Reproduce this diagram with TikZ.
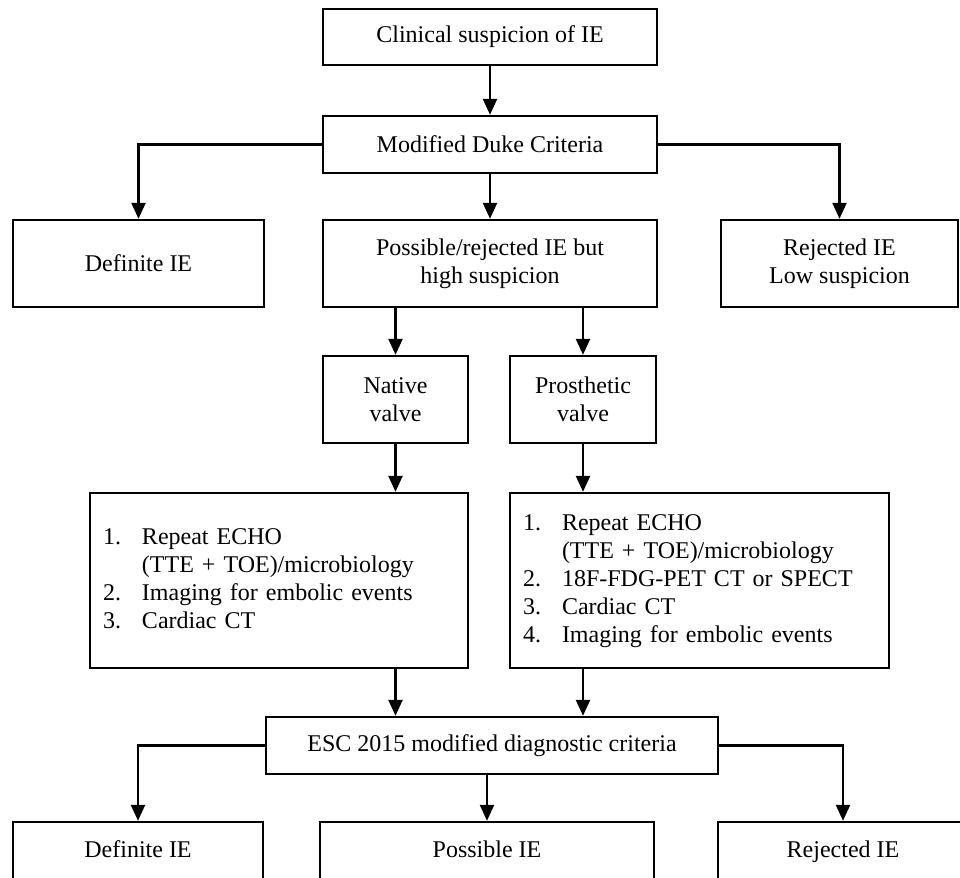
\documentclass[tikz,border=0pt]{standalone}
\usepackage{fontspec}
\setmainfont{Liberation Serif}
\usetikzlibrary{arrows.meta, positioning, calc}

\begin{document}
\begin{tikzpicture}[x=0.5pt, y=-0.5pt, line width=1.2pt,
  box/.style={draw, rectangle, align=center, font=\fontsize{12}{14}\selectfont},
  endbox/.style={box, minimum height=30pt, text height=8pt, text depth=2.5pt},
  listbox/.style={box, align=left, inner xsep=6.5pt, minimum height=87.5pt},
  arr/.style={-{Triangle[width=7pt,length=8pt]}}]
\useasboundingbox (0,0) rectangle (960,878);
\clip (0,0) rectangle (960,878);
% Top part
\node[box, minimum width=167pt, minimum height=28pt] (clin) at (490,37) {Clinical suspicion of IE};
\node[box, minimum width=167pt, minimum height=28.5pt] (duke) at (490,144.5) {Modified Duke Criteria};
\node[box, minimum width=125.5pt, minimum height=43.5pt] (defA) at (138.5,263.5) {Definite IE};
\node[box, minimum width=167pt, minimum height=43.5pt] (poss) at (490,263.5) {Possible/rejected IE but\\high suspicion};
\node[box, minimum width=118.5pt, minimum height=43.5pt] (rejA) at (839.5,263.5) {Rejected IE\\Low suspicion};
% Valves
\node[box, minimum width=72.5pt, minimum height=43.5pt] (native) at (395.5,399.5) {Native\\valve};
\node[box, minimum width=73pt, minimum height=43.5pt] (prosth) at (583,399.5) {Prosthetic\\valve};
\node[listbox, text width=176pt] (listN) at (279,580.5) {%
  \begin{tabular}{@{}p{19.5pt}@{}l@{}}
  1. & Repeat ECHO\\
     & (TTE + TOE)/microbiology\\
  2. & Imaging for embolic events\\
  3. & Cardiac CT
  \end{tabular}};
\node[listbox, text width=176.5pt] (listP) at (699.5,580.5) {%
  \begin{tabular}{@{}p{19.5pt}@{}l@{}}
  1. & Repeat ECHO\\
     & (TTE + TOE)/microbiology\\
  2. & 18F-FDG-PET CT or SPECT\\
  3. & Cardiac CT\\
  4. & Imaging for embolic events
  \end{tabular}};
% Bottom part
\node[box, minimum width=226pt, minimum height=28.5pt] (esc) at (492,745.5) {ESC 2015 modified diagnostic criteria};
\node[endbox, minimum width=125pt] (defB) at (138,852) {Definite IE};
\node[endbox, minimum width=167pt] (possB) at (487,852) {Possible IE};
\node[endbox, minimum width=125pt] (rejB) at (843,852) {Rejected IE};
% Arrows
\draw[arr] (clin) -- (duke);
\draw[arr] (duke) -- (poss);
\draw[arr] (duke.west) -| (defA.north);
\draw[arr] (duke.east) -| (rejA.north);
\draw[arr] (native |- poss.south) -- (native.north);
\draw[arr] (prosth |- poss.south) -- (prosth.north);
\draw[arr] (native.south) -- (native |- listN.north);
\draw[arr] (prosth.south) -- (prosth |- listP.north);
\draw[arr] (native |- listN.south) -- (native |- esc.north);
\draw[arr] (prosth |- listP.south) -- (prosth |- esc.north);
\draw[arr] (esc.west) -| (defB.north);
\draw[arr] (possB |- esc.south) -- (possB.north);
\draw[arr] (esc.east) -| (rejB.north);
\end{tikzpicture}
\end{document}
